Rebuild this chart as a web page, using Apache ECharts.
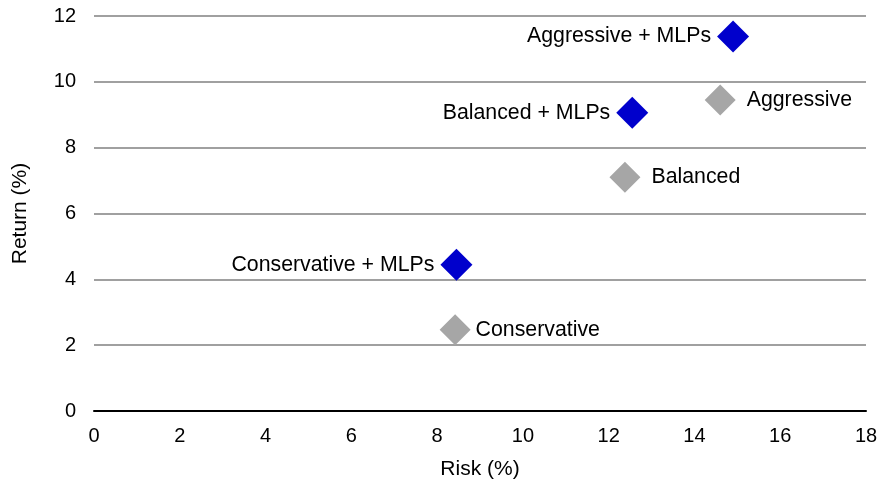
<!DOCTYPE html>
<html><head><meta charset="utf-8">
<script src="https://cdn.jsdelivr.net/npm/echarts@6/dist/echarts.min.js"></script>
<style>html,body{margin:0;padding:0;background:#fff}#c{width:882px;height:481px}</style>
</head><body><div id="c"></div>
<script>
const mlpNames = ["Aggressive + MLPs", "Balanced + MLPs", "Conservative + MLPs"];
const mlpRisk = [14.9, 12.55, 8.45];
const mlpReturn = [11.38, 9.06, 4.44];
const baseNames = ["Aggressive", "Balanced", "Conservative"];
const baseRisk = [14.6, 12.38, 8.42];
const baseReturn = [9.45, 7.1, 2.47];
const xTicks = [0, 2, 4, 6, 8, 10, 12, 14, 16, 18];
const yTicks = [0, 2, 4, 6, 8, 10, 12];

const baseLabelGap = [11, 11, 5];

const font = "Liberation Sans, Arial, sans-serif";
const chart = echarts.init(document.getElementById('c'));
chart.setOption({
  animation: false,
  grid: {left: 94, right: 16, top: 16, bottom: 70, outerBoundsMode: 'none', containLabel: false},
  xAxis: {
    type: 'value', min: xTicks[0], max: xTicks[xTicks.length-1], interval: 2,
    name: 'Risk (%)', nameLocation: 'middle', nameGap: 48,
    nameTextStyle: {color: '#000', fontSize: 21, fontFamily: font},
    axisLine: {show: true, onZero: false, lineStyle: {color: '#000', width: 2}},
    axisTick: {show: false},
    splitLine: {show: false},
    axisLabel: {color: '#000', fontSize: 20, fontFamily: font, margin: 15}
  },
  yAxis: {
    type: 'value', min: yTicks[0], max: yTicks[yTicks.length-1], interval: 2,
    name: 'Return (%)', nameLocation: 'middle', nameGap: 63, nameRotate: 90,
    nameTextStyle: {color: '#000', fontSize: 21, fontFamily: font},
    axisLine: {show: false},
    axisTick: {show: false},
    splitLine: {show: true, lineStyle: {color: '#a0a0a0', width: 2}},
    axisLabel: {color: '#000', fontSize: 20, fontFamily: font, margin: 18}
  },
  series: [
    {
      type: 'scatter', symbol: 'diamond', symbolSize: 32,
      itemStyle: {color: '#0000cc', opacity: 1},
      data: mlpNames.map((n,i)=>({name:n, value:[mlpRisk[i], mlpReturn[i]]})),
      label: {show: true, position: 'left', distance: 6, formatter: p=>p.name,
        color: '#000', fontSize: 21.3, fontFamily: font}
    },
    {
      type: 'scatter', symbol: 'diamond', symbolSize: 31,
      itemStyle: {color: '#a6a6a6', opacity: 1},
      data: baseNames.map((n,i)=>({name:n, value:[baseRisk[i], baseReturn[i]],
        label: {distance: baseLabelGap[i]}})),
      label: {show: true, position: 'right', distance: 11, formatter: p=>p.name,
        color: '#000', fontSize: 21.3, fontFamily: font}
    }
  ]
});
</script></body></html>
